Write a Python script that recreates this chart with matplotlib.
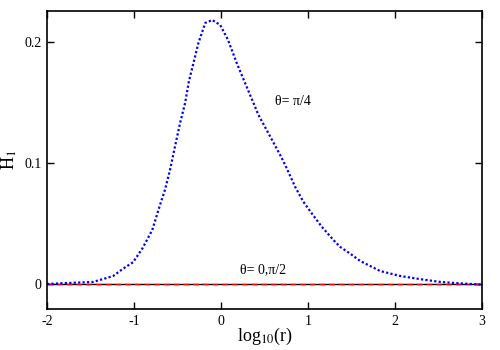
import matplotlib
matplotlib.use("Agg")
import matplotlib.pyplot as plt

# theta = pi/4 curve
log_r = [-2.0, -1.85, -1.47, -1.36, -1.24, -1.13, -1.01, -0.90, -0.79, -0.724,
         -0.68, -0.644, -0.586, -0.529, -0.471, -0.414, -0.368, -0.33, -0.26, -0.18,
         -0.10, -0.01, 0.08, 0.18, 0.30, 0.43, 0.56, 0.69, 0.755, 0.851,
         0.946, 1.042, 1.157, 1.291, 1.37, 1.48, 1.60, 1.83, 2.06, 2.29,
         2.52, 2.75, 3.0]
h1_pi4 = [0.0, 0.0005, 0.0017, 0.004, 0.0066, 0.0124, 0.018, 0.0298, 0.0446, 0.060,
          0.070, 0.0777, 0.0942, 0.1135, 0.1328, 0.149, 0.1678, 0.1785, 0.199, 0.2157,
          0.218, 0.214, 0.2017, 0.1826, 0.162, 0.1397, 0.1225, 0.1052, 0.0956, 0.0804,
          0.068, 0.0584, 0.0474, 0.0364, 0.0306, 0.0253, 0.019, 0.0107, 0.0066, 0.004,
          0.0017, 0.0005, -0.0005]

# theta = 0 and pi/2 curves (identically zero)
log_r_flat = [-2.0, -1.0, 0.0, 1.0, 2.0, 3.0]
h1_theta0 = [0.0, 0.0, 0.0, 0.0, 0.0, 0.0]
h1_pi2 = [0.0, 0.0, 0.0, 0.0, 0.0, 0.0]

x_ticks = [-2, -1, 0, 1, 2, 3]
y_ticks = [0.0, 0.1, 0.2]
y_tick_labels = ["0", "0.1", "0.2"]

plt.rcParams['font.family'] = ['Liberation Serif', 'DejaVu Serif']
plt.rcParams['mathtext.fontset'] = 'stix'

fig = plt.figure(figsize=(5, 3.5), dpi=100)
ax = fig.add_axes([0.094, 0.117, 0.870, 0.852])

ax.plot(log_r_flat, h1_pi2, color='black', lw=1.0)
ax.plot(log_r_flat, h1_theta0, color='red', lw=1.0, ls=(0, (4, 3)))
ax.plot(log_r, h1_pi4, color='blue', lw=1.6, ls=(0, (1, 1)))

ax.set_xlim(-2, 3)
ax.set_ylim(-0.0207, 0.2256)
ax.set_xticks(x_ticks)
ax.set_xticklabels([str(t) for t in x_ticks])
ax.set_yticks(y_ticks)
ax.set_yticklabels(y_tick_labels)
ax.tick_params(direction='in', top=True, right=True, length=5, width=1, labelsize=10, pad=4)
for s in ax.spines.values():
    s.set_linewidth(1.2)

ax.set_xlabel(r'log$_{10}$(r)', fontsize=13, labelpad=-1)
ax.set_ylabel(r'H$_1$', fontsize=13, labelpad=4)

ax.text(0.62, 0.151, 'θ= π/4', fontsize=10, va='center', ha='left')
ax.text(0.22, 0.0116, 'θ= 0,π/2', fontsize=10, va='center', ha='left')

fig.savefig('out.png', dpi=100)
